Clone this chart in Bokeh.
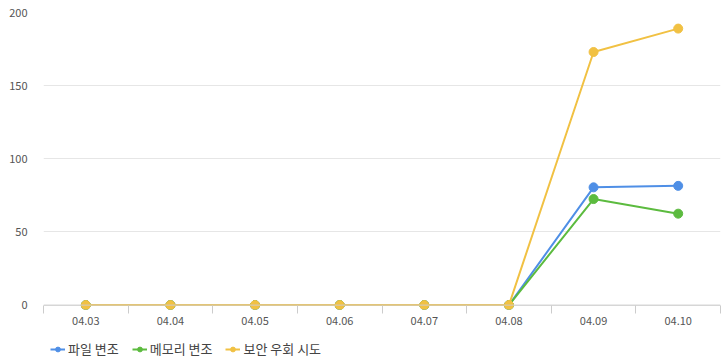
import numpy as np
from bokeh.plotting import figure
from bokeh.layouts import column
from bokeh.models import Range1d, FixedTicker, Legend, LegendItem, Span
from bokeh.embed import file_html
from bokeh.resources import INLINE

# Daily counts of detected events
dates = ["04.03", "04.04", "04.05", "04.06", "04.07", "04.08", "04.09", "04.10"]
file_tamper = [0, 0, 0, 0, 0, 0, 80.5, 81.5]
memory_tamper = [0, 0, 0, 0, 0, 0, 72.5, 62.5]
security_bypass = [0, 0, 0, 0, 0, 0, 173, 189]

series = [file_tamper, memory_tamper, security_bypass]
series_names = ["파일 변조", "메모리 변조", "보안 우회 시도"]
series_colors = ["#4f8fe6", "#5cbb3f", "#f1c143"]

FONT = "Noto Sans CJK KR"

x = np.arange(len(dates)) + 0.5

p = figure(
    width=721, height=327,
    x_range=Range1d(0, len(dates)), y_range=Range1d(-3, 200),
    output_backend="svg", toolbar_location=None,
    min_border_left=43, min_border_right=1, min_border_top=12,
    min_border_bottom=0,
)
p.outline_line_color = None
p.background_fill_color = "white"
p.border_fill_color = "white"

# y axis: labels only, light horizontal grid
p.yaxis.ticker = FixedTicker(ticks=[0, 50, 100, 150, 200])
p.yaxis.axis_line_color = None
p.yaxis.major_tick_line_color = None
p.yaxis.minor_tick_line_color = None
p.yaxis.major_label_text_font = FONT
p.yaxis.major_label_text_font_size = "11px"
p.yaxis.major_label_text_color = "#555555"
p.yaxis.major_label_standoff = 10
p.ygrid.grid_line_color = "#e6e6e6"
p.ygrid.grid_line_width = 1
p.xgrid.grid_line_color = None

# baseline at zero
p.add_layout(Span(location=0, dimension="width", line_color="#cccccc", line_width=1))

# x axis: labels at day centres, tick marks on day boundaries
p.xaxis.ticker = FixedTicker(ticks=list(x), minor_ticks=list(range(len(dates) + 1)))
p.xaxis.major_label_overrides = {float(v): d for v, d in zip(x, dates)}
p.xaxis.axis_line_color = None
p.xaxis.major_tick_line_color = None
p.xaxis.minor_tick_line_color = "#cccccc"
p.xaxis.minor_tick_in = 4
p.xaxis.minor_tick_out = 4
p.xaxis.major_tick_in = 0
p.xaxis.major_tick_out = 0
p.xaxis.major_label_standoff = 3
p.xaxis.major_label_text_font = FONT
p.xaxis.major_label_text_font_size = "11px"
p.xaxis.major_label_text_color = "#555555"

for vals, color in zip(series, series_colors):
    p.line(x, vals, line_color=color, line_width=2)
    p.scatter(x, vals, size=9, fill_color=color, line_color=color)

# legend strip underneath the chart; its view window lies away from the data,
# so only the legend entries are visible
lg = figure(
    width=721, height=36, output_backend="svg", toolbar_location=None,
    x_range=Range1d(-20, -19), y_range=Range1d(-20, -19),
    x_axis_type=None, y_axis_type=None,
    min_border_left=0, min_border_right=0, min_border_top=0, min_border_bottom=0,
)
lg.outline_line_color = None
lg.grid.grid_line_color = None
items = []
for name, vals, color in zip(series_names, series, series_colors):
    ln = lg.line(x, vals, line_color=color, line_width=2)
    sc = lg.scatter(x, vals, size=7, fill_color=color, line_color=color)
    items.append(LegendItem(label=name, renderers=[ln, sc]))
legend = Legend(
    items=items, orientation="horizontal", location=(7, 5),
    label_text_font=FONT, label_text_font_size="13px", label_text_color="#444444",
    glyph_width=15, glyph_height=12, label_standoff=3, spacing=13,
    border_line_color=None, background_fill_alpha=0,
    padding=0, margin=0,
)
lg.add_layout(legend, "center")

open("out.html", "w").write(file_html(column(p, lg, spacing=0), INLINE))
